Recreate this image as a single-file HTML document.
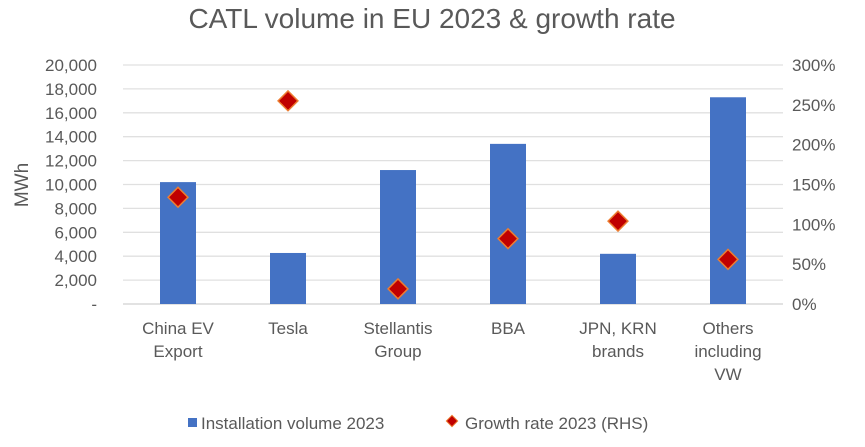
<!DOCTYPE html>
<html><head><meta charset="utf-8"><style>
body{margin:0;background:#fff;font-family:"Liberation Sans",sans-serif;}
svg text{font-family:"Liberation Sans",sans-serif;fill:#595959;}
</style></head><body>
<svg id="c" width="865" height="442">
<text x="432" y="28" font-size="28" text-anchor="middle">CATL volume in EU 2023 &amp; growth rate</text>
<text transform="translate(28,185) rotate(-90)" font-size="19" text-anchor="middle">MWh</text>
<g id="grid"></g><g id="bars"></g><g id="pts"></g><g id="labels"></g>
<g>
<rect x="188" y="418" width="9" height="9" fill="#4472c4"/>
<text x="201" y="429" font-size="17">Installation volume 2023</text>
<rect x="448" y="417" width="8" height="8" fill="#c00000" stroke="#ed7d31" transform="rotate(45 452 421)"/>
<text x="465" y="429" font-size="17">Growth rate 2023 (RHS)</text>
</g>
</svg>
<script>
const categories=[["China EV","Export"],["Tesla"],["Stellantis","Group"],["BBA"],["JPN, KRN","brands"],["Others","including","VW"]];
const volumes=[10200,4270,11210,13400,4200,17300];
const growth=[134,255,19,82,104,56];
const leftTicks=["-","2,000","4,000","6,000","8,000","10,000","12,000","14,000","16,000","18,000","20,000"];
const rightTicks=["0%","50%","100%","150%","200%","250%","300%"];
const NS="http://www.w3.org/2000/svg";
const X0=123,X1=783,Y0=304,Y1=65;
const yL=v=>Y0-(v/20000)*(Y0-Y1);
const yR=v=>Y0-(v/300)*(Y0-Y1);
const step=(X1-X0)/categories.length;
const xC=i=>X0+step*(i+0.5);
function mk(t,a,p){const e=document.createElementNS(NS,t);for(const k in a)e.setAttribute(k,a[k]);p.appendChild(e);return e;}
const g=document.getElementById('grid'),b=document.getElementById('bars'),p=document.getElementById('pts'),l=document.getElementById('labels');
leftTicks.forEach((t,i)=>{const y=yL(i*2000);
const ln=mk('line',{x1:X0,x2:X1,y1:y,y2:y,stroke:i==0?'#d0d0d0':'#e0e0e0','stroke-width':1.3},g);


const tx=mk('text',{x:97,y:y+6,'font-size':17,'text-anchor':'end'},l);tx.textContent=t;

});
rightTicks.forEach((t,i)=>{const tx=mk('text',{x:792,y:yR(i*50)+6,'font-size':17},l);tx.textContent=t;

});
categories.forEach((c,i)=>{const x=xC(i);
const r=mk('rect',{x:x-18,y:yL(volumes[i]),width:36,height:Y0-yL(volumes[i]),fill:'#4472c4'},b);


const d=mk('rect',{x:x-7,y:yR(growth[i])-7,width:14,height:14,fill:'#c00000',stroke:'#ed7d31','stroke-width':1.5,transform:`rotate(45 ${x} ${yR(growth[i])})`},p);


c.forEach((s,j)=>{const tx=mk('text',{x:x,y:334+j*23,'font-size':17,'text-anchor':'middle'},l);tx.textContent=s;

});});
</script>
</body></html>
